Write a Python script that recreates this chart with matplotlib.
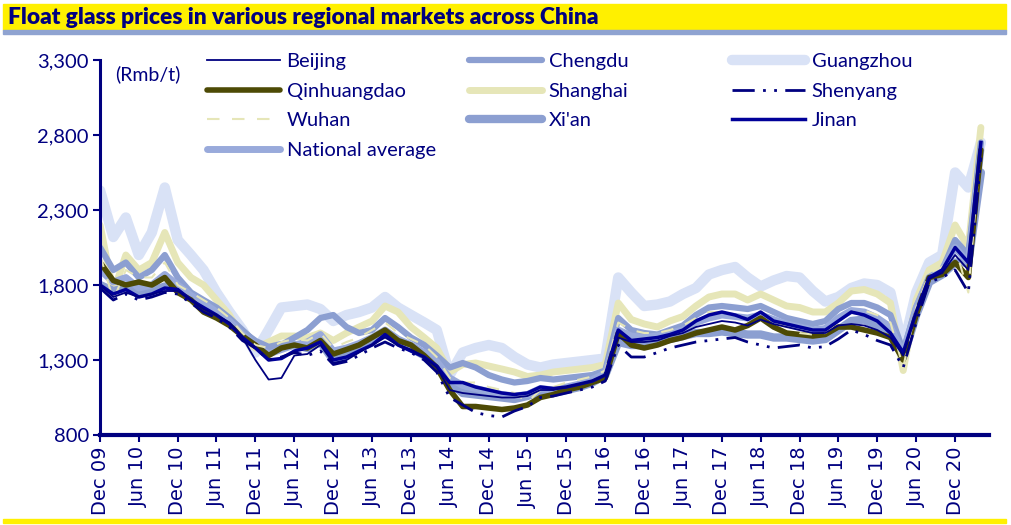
import numpy as np
import pandas as pd
import matplotlib
matplotlib.use("Agg")
import matplotlib.pyplot as plt
import matplotlib.dates as mdates

NAVY = "#000080"

# bi-monthly readings, Dec 09 .. Apr 21 (Rmb/t)
dates = pd.date_range("2009-12-01", periods=69, freq="2MS")

beijing = [1800, 1720, 1750, 1720, 1740, 1760,
           1760, 1700, 1640, 1600, 1550, 1450,
           1300, 1170, 1180, 1330, 1340, 1400,
           1280, 1300, 1350, 1400, 1450, 1400,
           1370, 1320, 1250, 1100, 1080, 1070,
           1060, 1050, 1050, 1060, 1100, 1100,
           1120, 1140, 1160, 1200, 1450, 1420,
           1420, 1430, 1460, 1480, 1520, 1540,
           1560, 1550, 1530, 1570, 1540, 1520,
           1500, 1480, 1480, 1530, 1540, 1530,
           1500, 1450, 1330, 1620, 1840, 1880,
           2000, 1900, 2700]
chengdu = [2050, 1900, 1950, 1850, 1900, 2000,
           1850, 1750, 1700, 1650, 1580, 1500,
           1420, 1380, 1400, 1450, 1500, 1580,
           1600, 1520, 1480, 1500, 1580, 1520,
           1450, 1400, 1330, 1250, 1280, 1250,
           1200, 1170, 1150, 1160, 1180, 1170,
           1180, 1190, 1200, 1230, 1580, 1500,
           1480, 1470, 1500, 1530, 1600, 1650,
           1660, 1650, 1640, 1660, 1620, 1580,
           1560, 1540, 1560, 1640, 1680, 1680,
           1650, 1600, 1360, 1650, 1850, 1900,
           2100, 2000, 2750]
guangzhou = [2430, 2120, 2250, 2000, 2150, 2450,
             2100, 2000, 1900, 1750, 1620, 1500,
             1350, 1500, 1650, 1660, 1670, 1640,
             1560, 1600, 1620, 1650, 1720, 1650,
             1600, 1550, 1500, 1200, 1350, 1380,
             1400, 1380, 1320, 1270, 1250, 1270,
             1280, 1290, 1300, 1310, 1850, 1750,
             1660, 1670, 1690, 1740, 1780, 1870,
             1900, 1920, 1850, 1790, 1830, 1860,
             1850, 1760, 1690, 1720, 1780, 1810,
             1800, 1750, 1380, 1750, 1950, 2000,
             2550, 2450, 2750]
qinhuangdao = [1950, 1830, 1800, 1820, 1800, 1850,
               1750, 1700, 1620, 1580, 1530, 1460,
               1400, 1330, 1380, 1400, 1380, 1430,
               1340, 1370, 1400, 1450, 1500, 1430,
               1400, 1330, 1250, 1100, 990, 990,
               980, 970, 980, 1000, 1050, 1070,
               1100, 1120, 1150, 1180, 1480, 1400,
               1380, 1400, 1430, 1450, 1480, 1500,
               1520, 1500, 1530, 1580, 1520, 1480,
               1470, 1460, 1470, 1520, 1520, 1500,
               1480, 1450, 1300, 1600, 1850, 1870,
               1950, 1850, 2700]
shanghai = [2200, 1750, 2000, 1900, 1950, 2150,
            1950, 1850, 1800, 1700, 1600, 1450,
            1380, 1420, 1460, 1460, 1450, 1480,
            1430, 1480, 1520, 1560, 1660, 1620,
            1520, 1450, 1380, 1220, 1270, 1280,
            1260, 1240, 1220, 1190, 1200, 1220,
            1230, 1240, 1250, 1270, 1680, 1570,
            1540, 1520, 1560, 1590, 1660, 1720,
            1740, 1740, 1700, 1740, 1700, 1660,
            1650, 1620, 1620, 1680, 1760, 1770,
            1740, 1680, 1230, 1700, 1900, 1950,
            2200, 2050, 2850]
shenyang = [1780, 1700, 1740, 1700, 1720, 1750,
            1740, 1680, 1620, 1580, 1520, 1430,
            1380, 1300, 1320, 1350, 1330, 1360,
            1270, 1290, 1330, 1380, 1420, 1380,
            1350, 1300, 1220, 1050, 1000, 950,
            930, 920, 960, 990, 1050, 1060,
            1080, 1100, 1120, 1160, 1400, 1320,
            1320, 1350, 1380, 1400, 1420, 1430,
            1440, 1450, 1420, 1400, 1380, 1390,
            1400, 1380, 1390, 1440, 1500, 1470,
            1430, 1400, 1250, 1550, 1820, 1850,
            1900, 1750, 2650]
wuhan = [2000, 1700, 1900, 1850, 1850, 1950,
         1800, 1750, 1700, 1650, 1580, 1480,
         1400, 1380, 1420, 1440, 1430, 1480,
         1380, 1420, 1450, 1500, 1550, 1480,
         1440, 1400, 1320, 1180, 1150, 1150,
         1120, 1100, 1080, 1020, 1100, 1120,
         1150, 1170, 1190, 1230, 1550, 1500,
         1480, 1480, 1500, 1530, 1580, 1620,
         1620, 1600, 1580, 1620, 1560, 1520,
         1480, 1470, 1480, 1560, 1620, 1630,
         1600, 1550, 1250, 1650, 1880, 1920,
         2050, 1750, 2750]
xian = [1800, 1760, 1780, 1740, 1760, 1790,
        1780, 1720, 1650, 1600, 1550, 1480,
        1420, 1380, 1400, 1400, 1380, 1420,
        1300, 1330, 1380, 1420, 1480, 1420,
        1380, 1330, 1280, 1150, 1080, 1070,
        1060, 1050, 1040, 1060, 1090, 1080,
        1100, 1120, 1150, 1200, 1420, 1400,
        1400, 1420, 1440, 1460, 1480, 1480,
        1490, 1480, 1470, 1470, 1450, 1450,
        1440, 1430, 1440, 1500, 1560, 1570,
        1520, 1480, 1320, 1600, 1820, 1870,
        1950, 1950, 2550]
jinan = [1800, 1740, 1770, 1720, 1740, 1780,
         1770, 1700, 1650, 1600, 1540, 1450,
         1380, 1300, 1310, 1360, 1380, 1420,
         1300, 1320, 1360, 1400, 1470, 1400,
         1360, 1320, 1260, 1150, 1150, 1120,
         1100, 1080, 1070, 1080, 1120, 1110,
         1120, 1140, 1160, 1200, 1500, 1430,
         1440, 1450, 1470, 1500, 1560, 1600,
         1620, 1600, 1570, 1620, 1560, 1540,
         1520, 1500, 1500, 1560, 1620, 1600,
         1560, 1480, 1350, 1620, 1850, 1900,
         2050, 1950, 2750]
national = [1900, 1820, 1850, 1780, 1800, 1870,
            1800, 1730, 1680, 1620, 1560, 1470,
            1400, 1340, 1370, 1400, 1420, 1470,
            1360, 1380, 1410, 1450, 1500, 1440,
            1400, 1350, 1290, 1180, 1130, 1110,
            1090, 1070, 1060, 1070, 1110, 1100,
            1120, 1140, 1170, 1210, 1500, 1460,
            1450, 1460, 1480, 1500, 1550, 1580,
            1600, 1590, 1580, 1600, 1570, 1540,
            1520, 1500, 1510, 1580, 1630, 1620,
            1580, 1520, 1340, 1650, 1850, 1900,
            2050, 1950, 2700]

yticks = [800, 1300, 1800, 2300, 2800, 3300]
xtick_dates = pd.date_range("2009-12-01", "2020-12-01", freq="6MS")
xtick_labels = [d.strftime("%b %y") for d in xtick_dates]

plt.rcParams["font.family"] = ["Lato", "DejaVu Sans"]

fig = plt.figure(figsize=(10.11, 5.25), dpi=100)
ax = fig.add_axes([0.099, 0.1714, 0.879, 0.7143])

# draw back to front
lines = {}
lines["Guangzhou"], = ax.plot(dates, guangzhou, color="#D9E2F6", lw=7.5, solid_capstyle="round")
lines["Shanghai"], = ax.plot(dates, shanghai, color="#E6E6B8", lw=5, solid_capstyle="round")
lines["Chengdu"], = ax.plot(dates, chengdu, color="#8C9FD1", lw=4.5, solid_capstyle="round")
lines["Xi'an"], = ax.plot(dates, xian, color="#8C9FD1", lw=6, solid_capstyle="round")
lines["National average"], = ax.plot(dates, national, color="#99AADB", lw=5, solid_capstyle="round")
lines["Qinhuangdao"], = ax.plot(dates, qinhuangdao, color="#4D4A05", lw=4, solid_capstyle="round")
lines["Wuhan"], = ax.plot(dates, wuhan, color="#E6E6B8", lw=1.5, dashes=(6, 6))
lines["Jinan"], = ax.plot(dates, jinan, color="#000099", lw=2.5)
lines["Shenyang"], = ax.plot(dates, shenyang, color=NAVY, lw=2, dashes=(8, 3, 1, 3, 1, 3))
lines["Beijing"], = ax.plot(dates, beijing, color=NAVY, lw=1.3)

# legend as three columns placed by hand (x of handle start, in pixels)
columns = [(["Beijing", "Qinhuangdao", "Wuhan", "National average"], 207),
           (["Chengdu", "Shanghai", "Xi'an"], 469),
           (["Guangzhou", "Shenyang", "Jinan"], 732)]
for names, px in columns:
    leg = fig.legend([lines[k] for k in names], names, frameon=False,
                     loc="upper left", bbox_to_anchor=(px / 1011, 1 - 53 / 525),
                     borderpad=0, borderaxespad=0,
                     fontsize=14.5, handlelength=3.6, handletextpad=0.35,
                     labelspacing=0.62)
    for t in leg.get_texts():
        t.set_color(NAVY)

ax.text(0.017, 0.985, "(Rmb/t)", transform=ax.transAxes, color=NAVY,
        fontsize=14, va="top", ha="left")

ax.set_ylim(800, 3300)
ax.set_yticks(yticks)
ax.set_yticklabels(["{:,}".format(v) for v in yticks], fontsize=14.5, color=NAVY)
ax.set_xlim(mdates.date2num(pd.Timestamp("2009-12-01")),
            mdates.date2num(pd.Timestamp("2021-05-08")))
ax.set_xticks(mdates.date2num(xtick_dates))
ax.set_xticklabels(xtick_labels, rotation=90, fontsize=14, color=NAVY,
                   family="DejaVu Sans")
ax.tick_params(axis="both", colors=NAVY, direction="out", length=5, width=1.5, pad=3)

for s in ["top", "right"]:
    ax.spines[s].set_visible(False)
ax.spines["left"].set_color(NAVY)
ax.spines["bottom"].set_color(NAVY)
ax.spines["left"].set_linewidth(2.2)
ax.spines["bottom"].set_linewidth(3)

# title band and bottom rule
fig.patches.append(plt.Rectangle((0.003, 0.942), 0.992, 0.05, transform=fig.transFigure,
                                 color="#FFF000", zorder=0))
fig.patches.append(plt.Rectangle((0.003, 0.936), 0.992, 0.006, transform=fig.transFigure,
                                 color="#8FA3D1", zorder=0))
fig.patches.append(plt.Rectangle((0.003, 0.003), 0.992, 0.008, transform=fig.transFigure,
                                 color="#FFF000", zorder=0))
fig.text(0.008, 0.966, "Float glass prices in various regional markets across China",
         fontsize=16.4, fontweight="heavy", color=NAVY, va="center", ha="left")

fig.savefig("out.png", dpi=100)
